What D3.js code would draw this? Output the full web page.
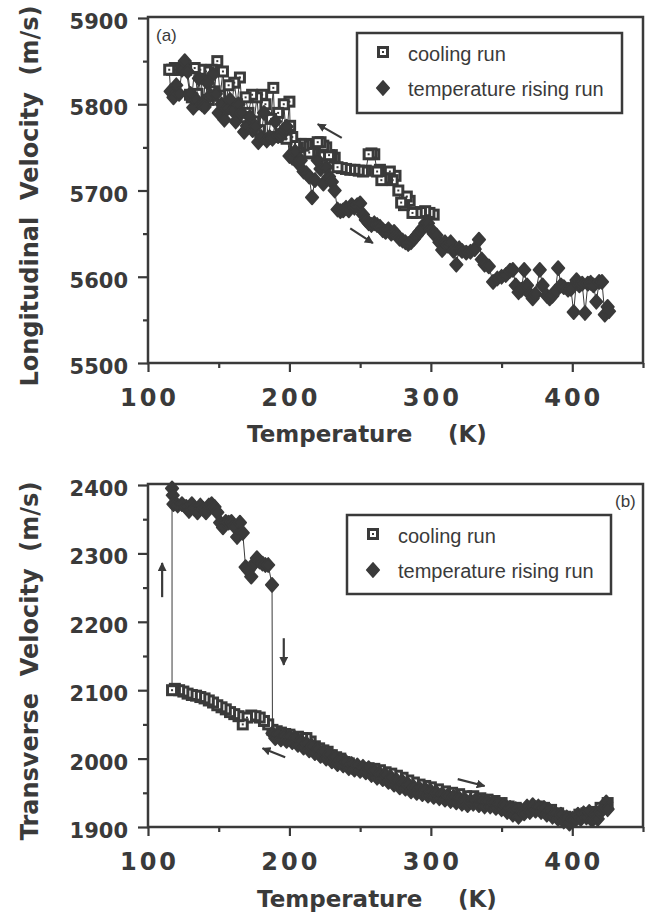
<!DOCTYPE html>
<html><head><meta charset="utf-8">
<script src="https://cdn.jsdelivr.net/npm/d3@7"></script>
<style>body{margin:0;background:#fff}</style>
</head><body>
<svg id="c" width="647" height="914"></svg>
<script>
// ---------- data ----------
const xTicks=[100,200,300,400];
const xMinor=[150,250,350,450];
const yTicksA=[5500,5600,5700,5800,5900];
const yMinorA=[5550,5650,5750,5850];
const yTicksB=[1900,2000,2100,2200,2300,2400];
const yMinorB=[1950,2050,2150,2250,2350];
const seriesNames=["cooling run","temperature rising run"];

// panel (a) cooling run (temperature falling)
const tempA_cool=[302,299,296,293,290,287,285,283,281,279,277,275,273,271,269,267,265,264,262,260,258,256,254,252,249,246,243,240,237,234,232,230,228,226,224,222,220,218,216,214,212,210,208,206,204,202,200.5,200,198,196,194,192,190,188.6,187,185,183,180.7,179,177,175,173.6,171,169,167,165,163,161,159,157,155,153,151,149,147,145,143,141,139,137,135,133,131,129.7,127,125,123,121,119,117,115];
const velA_cool=[5672,5674,5676,5675,5674,5674,5688,5693,5683,5686,5700,5717,5712,5722,5714,5714,5712,5724,5722,5742,5743,5742,5723,5722,5723,5724,5724,5725,5726,5727,5738,5741,5741,5750,5752,5756,5756,5745,5743,5744,5754,5752,5754,5750,5754,5762,5775,5803,5760,5800,5765,5790,5762,5819,5783,5760,5800,5811,5770,5808,5780,5811,5790,5808,5785,5831,5800,5825,5795,5822,5800,5838,5810,5850,5815,5840,5805,5838,5800,5840,5812,5842,5808,5811,5840,5842,5840,5840,5842,5840,5840];
// panel (a) temperature rising run
const tempA_rise=[116,118,120,122,124,126,128,130,132,134,136,138,140,142,144,146,148,150,152,154,156,158,160,162,164,166,168,170,172,174,176,178,180,182,184,186,188,190,192,194,196,198,200,202,204,206,208,210,212,214,216,218,220,222,224,226,228,230,232,234,236,238,240,242,244,246,248,250,252,254,256,258,260,262,264,266,268,270,272,274,276,278,280,282,284,286,288,290,292,294,296,298,300,302,304,306,308,310,312,314,316,318,320,322,325,328,331,334,336,338,341,344,347,350,353,356,358,360,362,364,366,368,370,372,374,377,379,382,384,386,388,390,392,394,397,399,401,403,405,407,409,411,413,415,417,419,421,423,425,426];
const velA_rise=[5815,5808,5822,5812,5840,5850,5838,5812,5796,5805,5830,5800,5797,5825,5810,5835,5812,5790,5800,5782,5795,5805,5793,5780,5800,5790,5768,5775,5785,5770,5774,5756,5762,5790,5758,5762,5760,5780,5763,5764,5770,5774,5740,5738,5745,5732,5735,5722,5720,5716,5692,5712,5735,5725,5708,5727,5716,5710,5700,5678,5676,5677,5680,5677,5683,5680,5683,5685,5672,5666,5662,5660,5662,5660,5658,5654,5652,5655,5650,5652,5648,5644,5642,5640,5638,5640,5644,5648,5652,5656,5662,5662,5655,5650,5648,5640,5631,5640,5636,5640,5630,5614,5633,5630,5628,5629,5632,5643,5620,5614,5612,5594,5598,5600,5602,5607,5608,5590,5582,5585,5608,5590,5580,5575,5580,5608,5590,5578,5575,5578,5583,5610,5590,5588,5585,5586,5559,5596,5590,5592,5558,5592,5593,5590,5571,5594,5594,5556,5565,5560];

// panel (b) cooling run
const tempB_cool=[425,420,415,410,405,400,395,390,385,380,375,370,365,360,355,350,345,340,335,330,325,320,315,310,305,300,296,292,288,284,280,276,272,268,264,260,256,252,248,245,242,239,236,233,230,227,224,221,218,215,212,209,206,203,200,197,194,191,188,185,182,179,176,173,170,167,164,161,158,155,152,149,146,143,140,137,134,131,128,125,122,119,117];
const velB_cool=[1935,1928,1922,1920,1918,1912,1915,1920,1925,1928,1930,1928,1925,1928,1930,1935,1938,1940,1942,1945,1945,1948,1950,1952,1955,1958,1960,1962,1965,1968,1972,1975,1978,1980,1983,1985,1986,1986,1985,1988,1993,1995,2000,2002,2005,2010,2012,2015,2018,2025,2030,2030,2032,2030,2035,2036,2038,2040,2042,2050,2055,2060,2062,2063,2060,2050,2062,2065,2068,2072,2075,2078,2082,2085,2088,2090,2092,2093,2095,2098,2100,2102,2100];
// panel (b) temperature rising run
const tempB_rise=[117,117.5,118,121,124,127,129,131,133,135,137,139,141,143,145,147,149,151,153,155,157,159,161,163,165,167,169,171,173,175,177,179,181,183,185,187.7,
188,190,192,194,196,198,200,202,204,206,208,210,212,214,216,218,220,222,224,226,228,230,232,234,236,238,240,242,244,246,248,250,252,254,256,258,260,262,264,266,268,270,272,274,276,278,280,282,284,286,288,290,292,294,296,298,300,302,304,306,308,310,312,314,316,318,320,322,324,326,328,330,332,334,336,338,340,342,344,346,348,350,352,354,356,358,360,362,364,366,368,370,372,374,376,378,380,382,384,386,388,390,392,394,396,398,400,402,404,406,408,410,412,414,416,418,420,422,424,425];
const velB_rise=[2395,2385,2372,2370,2372,2368,2362,2372,2365,2360,2370,2365,2360,2370,2372,2368,2360,2345,2338,2346,2345,2346,2340,2324,2345,2330,2280,2275,2266,2285,2293,2288,2285,2283,2283,2254,
2037,2030,2036,2028,2033,2026,2032,2024,2030,2020,2026,2016,2022,2012,2018,2008,2014,2004,2010,2000,2006,1996,2002,1992,1998,1990,1995,1986,1992,1984,1990,1982,1988,1980,1986,1976,1982,1972,1978,1970,1976,1966,1972,1962,1968,1958,1966,1956,1962,1952,1958,1950,1956,1948,1955,1946,1952,1944,1950,1942,1948,1940,1946,1938,1944,1936,1942,1934,1940,1932,1938,1934,1940,1932,1938,1930,1937,1930,1936,1928,1934,1926,1932,1922,1928,1918,1926,1915,1924,1920,1930,1922,1932,1924,1930,1922,1928,1918,1924,1915,1920,1912,1918,1908,1914,1905,1912,1910,1918,1912,1920,1914,1922,1910,1918,1912,1922,1928,1936,1926];

// annotation arrows, in data units [T0,v0,T1,v1]
const arrowsA=[[237,5761,220,5777],[243,5656,259,5639]];
const arrowsB=[[110,2236,110,2286],[196,2176,196,2137],[197,2002,181,2015],[319,1970,338,1960]];

// ---------- drawing ----------
const ink="#3a3a3a";
const svg=d3.select("#c");
svg.append("defs").append("marker").attr("id","ah").attr("viewBox","0 0 10 10")
  .attr("refX",9).attr("refY",5).attr("markerWidth",4).attr("markerHeight",4)
  .attr("orient","auto").append("path").attr("d","M0,0L10,5L0,10Z").attr("fill",ink);

const diamondPath="M0,-7L6.2,0L0,7L-6.2,0Z";
function drawSquare(g,x,y){
  g.append("rect").attr("x",x-4.5).attr("y",y-4.5).attr("width",9).attr("height",9)
   .attr("fill","#fff").attr("stroke",ink).attr("stroke-width",3);
  g.append("rect").attr("x",x-1).attr("y",y-1).attr("width",2).attr("height",2).attr("fill",ink);
}
function drawDiamond(g,x,y){
  g.append("path").attr("d",diamondPath).attr("transform",`translate(${x},${y})`)
   .attr("fill",ink).attr("stroke",ink).attr("stroke-width",1.8).attr("stroke-linejoin","round");
}

function panel(cfg){
  const x=d3.scaleLinear().domain([100,450]).range([148,643]);
  const y=d3.scaleLinear().domain(cfg.yDomain).range([cfg.bottom,cfg.top]);
  const g=svg.append("g");
  // axes
  g.append("g").attr("transform",`translate(0,${cfg.bottom})`)
    .call(d3.axisBottom(x).tickValues(xTicks).tickSize(9).tickPadding(0).tickFormat(""));
  g.append("g").attr("transform",`translate(0,${cfg.bottom})`)
    .call(d3.axisBottom(x).tickValues(xMinor).tickSize(5).tickFormat(""));
  g.append("g").attr("transform",`translate(148,0)`)
    .call(d3.axisLeft(y).tickValues(cfg.yTicks).tickSize(10).tickFormat(""));
  g.append("g").attr("transform",`translate(148,0)`)
    .call(d3.axisLeft(y).tickValues(cfg.yMinor).tickSize(5).tickFormat(""));
  g.selectAll(".domain").remove();
  g.selectAll(".tick line").attr("stroke",ink).attr("stroke-width",2.2);
  // tick labels
  g.selectAll(null).data(xTicks).enter().append("text")
    .attr("x",d=>x(d)+1.5).attr("y",cfg.bottom+43).attr("text-anchor","middle")
    .style("font-family","DejaVu Sans").style("font-weight","bold").style("font-size","24px")
    .style("letter-spacing","3px").attr("fill",ink).text(d=>d);
  g.selectAll(null).data(cfg.yTicks).enter().append("text")
    .attr("x",128).attr("y",d=>y(d)+11).attr("text-anchor","end")
    .style("font-family","DejaVu Sans").style("font-weight","bold").style("font-size","21px")
    .attr("fill",ink).text(d=>d);
  // frame
  g.append("rect").attr("x",148).attr("y",cfg.top-1).attr("width",643-148).attr("height",cfg.bottom-cfg.top+1)
    .attr("fill","none").attr("stroke",ink).attr("stroke-width",2.5);
  // axis titles
  const tt=g.append("text").attr("y",cfg.bottom+cfg.xTitleDy)
    .style("font-family","DejaVu Sans").style("font-weight","bold").style("font-size","23px").attr("fill",ink);
  tt.append("tspan").attr("x",cfg.xTitleX).text("Temperature");
  tt.append("tspan").attr("x",cfg.xTitleX+201).text("(K)");
  g.append("text").attr("transform",`translate(${cfg.yTitleX},${cfg.yTitleY}) rotate(-90)`)
    .attr("text-anchor","middle").style("white-space","pre")
    .style("font-family","DejaVu Sans").style("font-weight","bold").style("font-size","24px")
    .attr("fill",ink).text(cfg.yTitle);
  // panel label
  g.append("text").attr("x",cfg.labX).attr("y",cfg.labY).style("font-family","Liberation Sans")
    .style("font-size","17px").attr("fill",ink).text(cfg.label);
  // data line (cooling then rising as one run)
  const cool=cfg.tc.map((t,i)=>[t,cfg.vc[i]]);
  const rise=cfg.tr.map((t,i)=>[t,cfg.vr[i]]);
  const line=d3.line().x(d=>x(d[0])).y(d=>y(d[1]));
  g.append("path").attr("d",line(cool.concat(rise))).attr("fill","none").attr("stroke",ink).attr("stroke-width",1);
  const gc=g.append("g"), gr=g.append("g");
  cool.forEach(d=>drawSquare(gc,x(d[0]),y(d[1])));
  rise.forEach(d=>drawDiamond(gr,x(d[0]),y(d[1])));
  // arrows
  cfg.arrows.forEach(a=>{
    g.append("line").attr("x1",x(a[0])).attr("y1",y(a[1])).attr("x2",x(a[2])).attr("y2",y(a[3]))
      .attr("stroke",ink).attr("stroke-width",2.2).attr("marker-end","url(#ah)");
  });
  // legend
  const L=cfg.legend;
  g.append("rect").attr("x",L.x).attr("y",L.y).attr("width",L.w).attr("height",L.h)
    .attr("fill","#fff").attr("stroke",ink).attr("stroke-width",2.5);
  drawSquare(g,L.x+26,L.y+19);
  drawDiamond(g,L.x+26,L.y+55);
  seriesNames.forEach((s,i)=>{
    g.append("text").attr("x",L.x+51).attr("y",L.y+28+i*35).style("font-family","Liberation Sans")
      .style("font-size","20px").attr("fill",ink).text(s);
  });
}

panel({yDomain:[5500,5900],top:18,bottom:363,yTicks:yTicksA,yMinor:yMinorA,
  tc:tempA_cool,vc:velA_cool,tr:tempA_rise,vr:velA_rise,arrows:arrowsA,
  xTitleX:247,xTitleDy:79,yTitleX:38,yTitleY:196,yTitle:"Longitudinal  Velocity  (m/s)",
  label:"(a)",labX:156,labY:41,legend:{x:357,y:33,w:265,h:80}});
panel({yDomain:[1900,2400],top:485,bottom:827,yTicks:yTicksB,yMinor:yMinorB,
  tc:tempB_cool,vc:velB_cool,tr:tempB_rise,vr:velB_rise,arrows:arrowsB,
  xTitleX:257,xTitleDy:80,yTitleX:38,yTitleY:661,yTitle:"Transverse  Velocity  (m/s)",
  label:"(b)",labX:615,labY:507,legend:{x:347,y:515,w:264,h:79}});
</script>
</body></html>
